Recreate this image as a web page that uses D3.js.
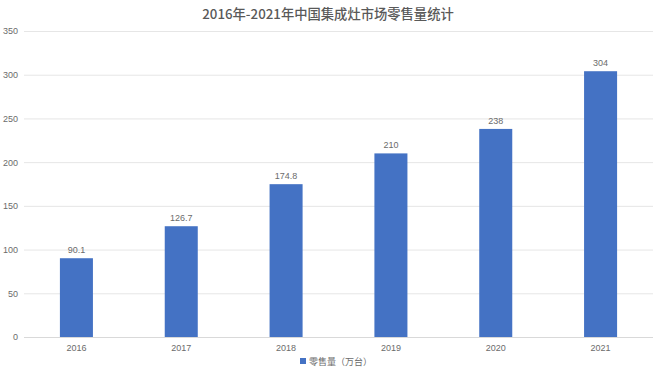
<!DOCTYPE html>
<html><head><meta charset="utf-8">
<script src="https://cdn.jsdelivr.net/npm/d3@7"></script>
<style>body{margin:0;background:#fff}svg{display:block}</style>
</head><body>
<svg id="c" width="660" height="372"></svg>
<script>
const categories = ["2016","2017","2018","2019","2020","2021"];
const values = [90.1, 126.7, 174.8, 210, 238, 304];
const valueLabels = ["90.1","126.7","174.8","210","238","304"];
const yTicks = [0,50,100,150,200,250,300,350];
const title = "2016年-2021年中国集成灶市场零售量统计";
const seriesName = "零售量（万台）";

const svg = d3.select("#c");
const font = "'Liberation Sans','Noto Sans CJK SC',sans-serif";
const L = 24, R = 653, T = 31, B = 337;
const x = d3.scaleBand().domain(categories).range([L, R]).paddingInner(0.685).paddingOuter(0.3425);
const y = d3.scaleLinear().domain([0, 350]).range([B, T]);

svg.append("text").attr("x", 328).attr("y", 19).attr("text-anchor", "middle")
  .attr("font-family", "'Noto Sans CJK SC',sans-serif").attr("font-size", 13.3).attr("font-weight", 500)
  .attr("fill", "#595959").text(title);

const yAxis = svg.append("g").attr("transform", `translate(${L},0)`)
  .call(d3.axisLeft(y).tickValues(yTicks).tickSize(-(R - L)).tickPadding(6));
yAxis.select(".domain").remove();
yAxis.selectAll("line").attr("stroke", "#e6e6e6");
yAxis.selectAll("line").filter(d => d === 0).attr("stroke", "#d9d9d9");
yAxis.selectAll("text").attr("font-family", font).attr("font-size", 9).attr("fill", "#6b6b6b");

const xAxis = svg.append("g").attr("transform", `translate(0,${B})`)
  .call(d3.axisBottom(x).tickSize(0).tickPadding(8));
xAxis.select(".domain").remove();
xAxis.selectAll("text").attr("font-family", font).attr("font-size", 9).attr("fill", "#6b6b6b");

svg.selectAll("rect.bar").data(values).join("rect").attr("class", "bar")
  .attr("x", (d, i) => x(categories[i])).attr("width", x.bandwidth())
  .attr("y", d => y(d)).attr("height", d => B - y(d)).attr("fill", "#4472C4");

svg.selectAll("text.lbl").data(values).join("text").attr("class", "lbl")
  .attr("x", (d, i) => x(categories[i]) + x.bandwidth() / 2).attr("y", d => y(d) - 5)
  .attr("text-anchor", "middle").attr("font-family", font).attr("font-size", 9).attr("fill", "#6b6b6b")
  .text((d, i) => valueLabels[i]);

const lg = svg.append("g").attr("transform", "translate(300,361)");
lg.append("rect").attr("x", 0).attr("y", -3).attr("width", 6).attr("height", 6).attr("fill", "#4472C4");
lg.append("text").attr("x", 9).attr("y", 3.5).attr("font-family", font).attr("font-size", 9).attr("fill", "#6b6b6b").text(seriesName);
</script>
</body></html>
